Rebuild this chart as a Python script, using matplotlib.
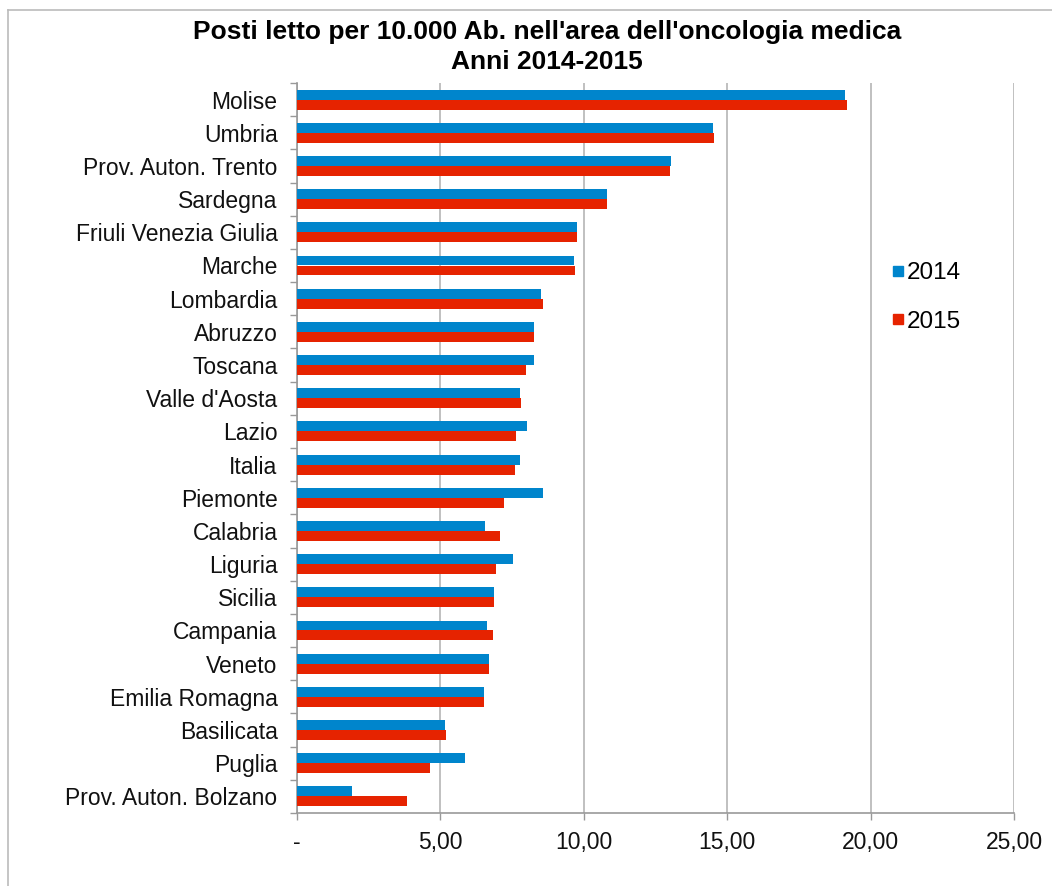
import matplotlib
matplotlib.use("Agg")
import matplotlib.pyplot as plt
import numpy as np
from matplotlib.lines import Line2D

regions = ["Molise", "Umbria", "Prov. Auton. Trento", "Sardegna", "Friuli Venezia Giulia",
           "Marche", "Lombardia", "Abruzzo", "Toscana", "Valle d'Aosta", "Lazio", "Italia",
           "Piemonte", "Calabria", "Liguria", "Sicilia", "Campania", "Veneto",
           "Emilia Romagna", "Basilicata", "Puglia", "Prov. Auton. Bolzano"]
v2014 = [19.10, 14.50, 13.04, 10.82, 9.76, 9.66, 8.51, 8.25, 8.28, 7.78, 8.01, 7.79,
         8.57, 6.55, 7.52, 6.86, 6.63, 6.69, 6.52, 5.17, 5.86, 1.93]
v2015 = [19.18, 14.55, 13.02, 10.82, 9.78, 9.69, 8.59, 8.25, 8.00, 7.80, 7.63, 7.59,
         7.22, 7.09, 6.94, 6.86, 6.82, 6.69, 6.52, 5.19, 4.63, 3.84]
series = ["2014", "2015"]
xticks = [0, 5, 10, 15, 20, 25]
xticklabels = ["-", "5,00", "10,00", "15,00", "20,00", "25,00"]
title = "Posti letto per 10.000 Ab. nell'area dell'oncologia medica\nAnni 2014-2015"

plt.rcParams['font.family'] = ['Liberation Sans', 'DejaVu Sans']

W, H = 1052, 886
fig = plt.figure(figsize=(W / 100, H / 100), dpi=100)
ax = fig.add_axes([297 / W, 1 - 813 / H, (1014 - 297) / W, (813 - 83) / H])

blue = '#0085CC'
red = '#E62300'
y = np.arange(len(regions))
h = 0.30
ax.barh(y - h / 2, v2014, height=h, color=blue, label=series[0], zorder=3)
ax.barh(y + h / 2, v2015, height=h, color=red, label=series[1], zorder=3)

ax.set_ylim(len(regions) - 0.5, -0.5)
ax.set_xlim(0, 25)

ax.set_xticks(xticks)
ax.set_xticklabels(xticklabels, fontsize=16.5, color='#111111')
ax.set_yticks(y)
ax.set_yticklabels(regions, fontsize=16.5, color='#111111')
ax.tick_params(axis='y', length=0, pad=14)
ax.set_yticks(np.arange(len(regions) + 1) - 0.5, minor=True)
ax.tick_params(axis='y', which='minor', length=5, width=1, color='#999999')
ax.tick_params(axis='x', length=5, width=1, color='#999999', pad=8)

ax.grid(axis='x', color='#BBBBBB', linewidth=1.3, zorder=0)
ax.set_axisbelow(True)
for s in ['top', 'right']:
    ax.spines[s].set_visible(False)
for s in ['left', 'bottom']:
    ax.spines[s].set_color('#999999')
    ax.spines[s].set_linewidth(1.2)

handles = [Line2D([0], [0], marker='s', color='none', markerfacecolor=blue, markeredgecolor=blue, markersize=7.5),
           Line2D([0], [0], marker='s', color='none', markerfacecolor=red, markeredgecolor=red, markersize=7.5)]
leg = fig.legend(handles, series, loc='upper left', bbox_to_anchor=(879 / W, 1 - 250 / H),
                 frameon=False, fontsize=17.5, handlelength=0.55, handletextpad=0.1,
                 labelspacing=1.1, borderpad=0)

fig.text(547 / W, 1 - 47 / H, title, ha='center', va='center', fontsize=19,
         fontweight='bold', linespacing=1.3, color='#000000')

# outer chart frame (top and left visible)
fig.add_artist(Line2D([8 / W, 8 / W], [0, 1 - 10 / H], transform=fig.transFigure, color='#BBBBBB', lw=1.2))
fig.add_artist(Line2D([8 / W, 1], [1 - 10 / H, 1 - 10 / H], transform=fig.transFigure, color='#BBBBBB', lw=1.2))

fig.savefig("out.png", dpi=100)
